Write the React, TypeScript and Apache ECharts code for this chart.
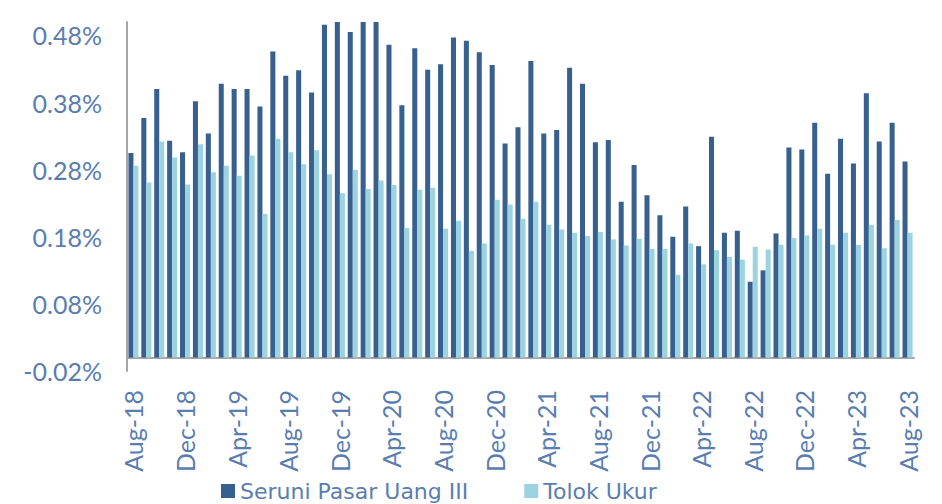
import React, { useEffect, useRef } from "react";
import * as echarts from "echarts";

const months = ["Jan", "Feb", "Mar", "Apr", "May", "Jun", "Jul", "Aug", "Sep", "Oct", "Nov", "Dec"];
const categories: string[] = [];
for (let y = 2018; y <= 2023; y++) {
  for (let m = 0; m < 12; m++) {
    if (y === 2018 && m < 7) continue;
    if (y === 2023 && m > 7) continue;
    categories.push(`${months[m]}-${String(y).slice(2)}`);
  }
}

const seruni = [
  0.305, 0.357, 0.400, 0.323, 0.306, 0.382, 0.334, 0.408, 0.400, 0.400,
  0.374, 0.456, 0.420, 0.428, 0.395, 0.496, 0.501, 0.485, 0.501, 0.501,
  0.466, 0.376, 0.461, 0.429, 0.437, 0.477, 0.472, 0.455, 0.436, 0.319,
  0.343, 0.442, 0.334, 0.339, 0.432, 0.408, 0.321, 0.324, 0.232, 0.287,
  0.242, 0.212, 0.180, 0.225, 0.166, 0.329, 0.186, 0.189, 0.113, 0.130,
  0.185, 0.313, 0.310, 0.350, 0.274, 0.326, 0.289, 0.394, 0.322, 0.350,
  0.292,
];

const tolokUkur = [
  0.286, 0.261, 0.322, 0.298, 0.258, 0.318, 0.276, 0.286, 0.271, 0.301,
  0.214, 0.326, 0.306, 0.288, 0.309, 0.273, 0.245, 0.280, 0.251, 0.264,
  0.257, 0.193, 0.250, 0.253, 0.192, 0.204, 0.159, 0.170, 0.235, 0.228,
  0.207, 0.232, 0.198, 0.191, 0.186, 0.181, 0.187, 0.176, 0.167, 0.177,
  0.162, 0.162, 0.123, 0.170, 0.139, 0.160, 0.150, 0.146, 0.165, 0.161,
  0.168, 0.178, 0.182, 0.192, 0.168, 0.186, 0.168, 0.198, 0.163, 0.205,
  0.186,
];

const yTicks = [-0.02, 0.08, 0.18, 0.28, 0.38, 0.48];

const TEXT = "#5a7db0";
const FONT = "Lato";

export default function App() {
  const ref = useRef<HTMLDivElement>(null);
  useEffect(() => {
    document.body.style.margin = "0";
    if (!ref.current) return;
    const chart = echarts.init(ref.current, undefined, { renderer: "svg" });
    chart.setOption({
      animation: false,
      textStyle: { fontFamily: FONT },
      grid: { left: 127, right: 28, top: 22, bottom: 133 },
      legend: {
        left: 216,
        top: 474,
        itemWidth: 14,
        itemHeight: 14,
        itemGap: 56,
        icon: "rect",
        textStyle: { color: TEXT, fontSize: 22, fontFamily: "DejaVu Sans", lineHeight: 24 },
        data: ["Seruni Pasar Uang III", "Tolok Ukur"],
      },
      xAxis: {
        type: "category",
        data: categories,
        axisLine: { onZero: true, lineStyle: { color: "#a6a6a6", width: 2 } },
        axisTick: { show: false },
        axisLabel: {
          interval: 3,
          rotate: 90,
          margin: 19,
          color: TEXT,
          fontSize: 25,
          fontFamily: FONT,
        },
      },
      yAxis: {
        type: "value",
        min: -0.02,
        max: 0.5,
        axisLine: { show: true, lineStyle: { color: "#a6a6a6", width: 2 } },
        axisTick: { show: false },
        splitLine: { show: false },
        axisLabel: {
          customValues: yTicks,
          margin: 25,
          color: TEXT,
          fontSize: 25,
          fontFamily: FONT,
          formatter: (v: number) => v.toFixed(2) + "%",
        },
      },
      series: [
        {
          name: "Seruni Pasar Uang III",
          type: "bar",
          data: seruni,
          barGap: "0%",
          barCategoryGap: "22%",
          itemStyle: { color: "#37608f" },
        },
        {
          name: "Tolok Ukur",
          type: "bar",
          data: tolokUkur,
          itemStyle: { color: "#9bd3e0" },
        },
      ],
    });
    return () => chart.dispose();
  }, []);
  return <div ref={ref} style={{ width: 942, height: 504 }} />;
}
